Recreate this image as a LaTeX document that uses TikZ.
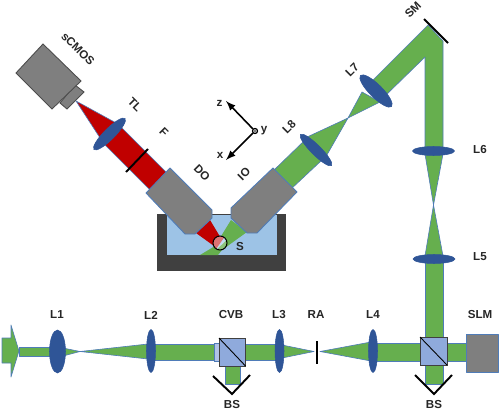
\documentclass[tikz,border=0pt]{standalone}
\usepackage{fontspec}
\setmainfont{Liberation Sans}
\definecolor{beamgreen}{HTML}{66AF4E}
\definecolor{beamred}{HTML}{C00000}
\definecolor{edgeblue}{HTML}{4F7CB8}
\definecolor{lensblue}{HTML}{2F5597}
\definecolor{cubeblue}{HTML}{8FAADC}
\definecolor{waterblue}{HTML}{9DC3E6}
\definecolor{bodygray}{HTML}{7F7F7F}
\definecolor{tankgray}{HTML}{404040}
\tikzset{
  beam/.style={fill=beamgreen,draw=edgeblue,line width=0.35pt,line join=round},
  redbeam/.style={fill=beamred,draw=edgeblue,line width=0.35pt,line join=round},
  lens/.style={fill=lensblue,draw=lensblue,line width=0.3pt},
  cube/.style={fill=cubeblue,draw=tankgray,line width=0.5pt},
  body/.style={fill=bodygray,draw=edgeblue,line width=0.5pt,line join=round},
  stopline/.style={draw=black,line width=1.1pt},
  tag/.style={font=\fontsize{6.6}{7}\selectfont\bfseries,text=black!85,inner sep=0pt}
}
\begin{document}
\begin{tikzpicture}[x=0.02cm,y=-0.02cm]
\useasboundingbox (0,0) rectangle (500,412);
\fill[tankgray] (157,214) rectangle (286,271);
\fill[waterblue] (166,215) rectangle (277,255);
\draw[tankgray,line width=0.4pt] (166,215) -- (166,255) -- (277,255) -- (277,215);
\fill[beamgreen] (231,220) -- (247,232) -- (222,250) -- (218,255) -- (200,255) -- (215,246) -- cycle;
\fill[beamred] (210,220) -- (222,240) -- (214,246) -- (196,233) -- cycle;
\begin{scope}
\clip (220,243) circle (7);
\fill[white!40!waterblue] (210,233) rectangle (230,253);
\fill[beamred!55!white] (209,232) -- (228,232) -- (214,252) -- cycle;
\fill[beamgreen!75!white] (231,236) -- (231,254) -- (212,254) -- cycle;
\end{scope}
\draw[black,line width=0.6pt] (220,243) circle (7);
\draw[beam] (2,338) -- (11,338) -- (11,325) -- (19,351) -- (11,377) -- (11,363) -- (2,363) -- cycle;
\draw[beam] (19,347) rectangle (52,356);
\draw[beam] (63,348) -- (80,351.5) -- (63,356) -- cycle;
\draw[beam] (80,351.5) -- (148,344) -- (148,359) -- cycle;
\draw[beam] (153,344) rectangle (214,360);
\draw[fill=cubeblue!70!white,draw=edgeblue,line width=0.35pt] (214,343) rectangle (219,361);
\draw[beam] (225,366) rectangle (240,384);
\draw[beam] (245,344) rectangle (277,360);
\draw[beam] (282,345) -- (314,351.5) -- (282,358) -- cycle;
\draw[beam] (320,351.5) -- (371,342) -- (371,361) -- cycle;
\draw[beam] (375,343) rectangle (420,361);
\draw[beam] (447,343) rectangle (466,361);
\draw[beam] (425,365) rectangle (443,384);
\draw[beam] (425,337) rectangle (443,262);
\draw[beam] (425,256) -- (433.5,205) -- (443,256) -- cycle;
\draw[beam] (425,154) -- (433.5,205) -- (443,154) -- cycle;
\draw[beam] (443,41) -- (443,148) -- (425,148) -- (425,57) -- (385,96) -- (372,81) -- (428,25) -- cycle;
\draw[beam] (362,92) -- (348,118) -- (380,102) -- cycle;
\draw[beam] (348,118) -- (305,138) -- (324,160) -- cycle;
\draw[beam] (304,141) -- (322,160) -- (290,190) -- (272,172) -- cycle;
\draw[redbeam] (76,101) -- (118,124) -- (104,144) -- cycle;
\draw[redbeam] (118,124) -- (170,176) -- (150,190) -- (104,144) -- cycle;
\draw[lens] (57.5,351.5) ellipse (8 and 21.5);
\draw[lens] (151,351) ellipse (4.5 and 21.5);
\draw[lens] (279.5,351) ellipse (4.5 and 21.5);
\draw[lens] (373,351) ellipse (4.5 and 21.5);
\draw[lens] (434,259) ellipse (21 and 4.5);
\draw[lens] (433.5,151) ellipse (21 and 4.5);
\draw[lens,rotate around={-45:(376,91)}] (376,91) ellipse (22 and 6.5);
\draw[lens,rotate around={-45:(316,150)}] (316,150) ellipse (22 and 5);
\draw[lens,rotate around={45:(109.5,134)}] (109.5,134) ellipse (22 and 5.5);
\draw[cube] (219,338) rectangle (245.5,366);
\draw[black,line width=0.5pt] (219,338) -- (245.5,366);
\draw[cube] (420,337) rectangle (447,365);
\draw[black,line width=0.5pt] (420,337) -- (447,365);
\draw[body] (466,334) rectangle (498,372);
\draw[body] (170,168) -- (212,210) -- (212,218) -- (195,234) -- (185,234) -- (146,193) -- cycle;
\draw[body] (273,168) -- (297,192) -- (257,233) -- (247,233) -- (231,218) -- (231,208) -- cycle;
\draw[fill=bodygray,draw=black!70,line width=0.5pt] (75,85) -- (84,92) -- (67,109) -- (60,103) -- cycle;
\draw[fill=bodygray,draw=black!70,line width=0.5pt] (43,44) -- (81,81) -- (52,109) -- (16,73) -- cycle;
\draw[stopline] (148,149) -- (126,172);
\draw[stopline] (424,19) -- (448,43);
\draw[stopline] (317,341) -- (317,364);
\draw[stopline] (213,376) -- (232,394) -- (250,375);
\draw[stopline] (415,375) -- (434,394) -- (452,375);
\coordinate (origin) at (255,131);
\coordinate (ztip) at (226,101);
\coordinate (xtip) at (226,160);
\draw[black,line width=0.7pt] (origin) circle (2.5);
\fill[black] (origin) circle (0.8);
\draw[black,line width=0.9pt,-latex] (origin) ++(-2,-2) -- (ztip);
\draw[black,line width=0.9pt,-latex] (origin) ++(-2,2) -- (xtip);
\node[tag] (zlabel) at (219.5,103) {z};
\node[tag] (xlabel) at (220,155) {x};
\node[tag] (ylabel) at (264,131) {y};
\node[tag,rotate=-45] (sCMOSlabel) at (78,49) {sCMOS};
\node[tag,rotate=-45] (TLlabel) at (135,105) {TL};
\node[tag,rotate=-45] (Flabel) at (164,132) {F};
\node[tag,rotate=-45] (DOlabel) at (202,173) {DO};
\node[tag,rotate=45] (IOlabel) at (244,174) {IO};
\node[tag,rotate=45] (L8label) at (289,127) {L8};
\node[tag,rotate=45] (L7label) at (352,70) {L7};
\node[tag,rotate=45] (SMlabel) at (413,10) {SM};
\node[tag] (L6label) at (480,150) {L6};
\node[tag] (L5label) at (480,257) {L5};
\node[tag] (Slabel) at (240,247) {S};
\node[tag] (L1label) at (57,315) {L1};
\node[tag] (L2label) at (151,315) {L2};
\node[tag] (CVBlabel) at (231,315) {CVB};
\node[tag] (L3label) at (279,315) {L3};
\node[tag] (RAlabel) at (316,315) {RA};
\node[tag] (L4label) at (373,315) {L4};
\node[tag] (SLMlabel) at (480,315) {SLM};
\node[tag] (BSleft) at (232,405) {BS};
\node[tag] (BSright) at (434,405) {BS};
\end{tikzpicture}
\end{document}
